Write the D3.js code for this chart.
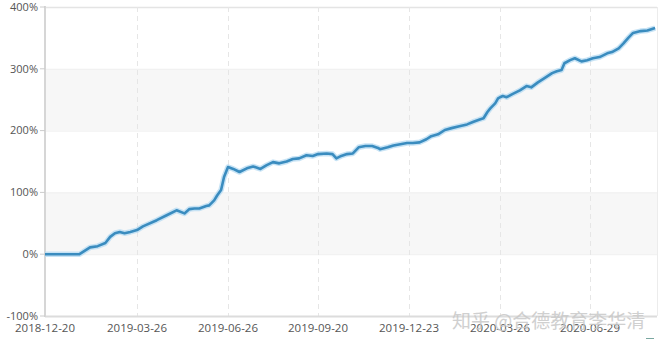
<!DOCTYPE html>
<html lang="en">
<head>
<script src="https://d3js.org/d3.v7.min.js"></script>
<style>
  body { margin: 0; background: #fff; }
  .tick-label { font-family: "Open Sans", "DejaVu Sans", sans-serif; font-size: 11px; fill: #555; }
</style>
</head>
<body>
<svg id="chart" width="665" height="348"></svg>
<script>
// x tick dates (also the dashed grid lines)
const tickDates = ["2018-12-20", "2019-03-26", "2019-06-26", "2019-09-20", "2019-12-23", "2020-03-26", "2020-06-29"];
const yTicks = [-100, 0, 100, 200, 300, 400];

// cumulative return, %
const dates = [
  "2018-12-20", "2019-01-25", "2019-02-05", "2019-02-13", "2019-02-21", "2019-02-26", "2019-03-03", "2019-03-08",
  "2019-03-13", "2019-03-19", "2019-03-26", "2019-04-01", "2019-04-15", "2019-04-25", "2019-05-05", "2019-05-13",
  "2019-05-18", "2019-05-23", "2019-05-28", "2019-06-04", "2019-06-07", "2019-06-12", "2019-06-15", "2019-06-19",
  "2019-06-22", "2019-06-26", "2019-07-01", "2019-07-07", "2019-07-14", "2019-07-20", "2019-07-27", "2019-08-02",
  "2019-08-08", "2019-08-14", "2019-08-21", "2019-08-27", "2019-09-02", "2019-09-09", "2019-09-15", "2019-09-20",
  "2019-09-29", "2019-10-05", "2019-10-09", "2019-10-14", "2019-10-20", "2019-10-26", "2019-11-01", "2019-11-08",
  "2019-11-15", "2019-11-21", "2019-11-23", "2019-12-01", "2019-12-07", "2019-12-14", "2019-12-21", "2019-12-27",
  "2020-01-03", "2020-01-10", "2020-01-15", "2020-01-22", "2020-01-29", "2020-02-05", "2020-02-13", "2020-02-21",
  "2020-02-27", "2020-03-05", "2020-03-09", "2020-03-13", "2020-03-16", "2020-03-21", "2020-03-24", "2020-03-26",
  "2020-03-29", "2020-04-02", "2020-04-08", "2020-04-16", "2020-04-23", "2020-04-28", "2020-05-05", "2020-05-12",
  "2020-05-20", "2020-05-25", "2020-05-30", "2020-06-02", "2020-06-08", "2020-06-13", "2020-06-20", "2020-06-26",
  "2020-07-02", "2020-07-09", "2020-07-17", "2020-07-22", "2020-07-29", "2020-08-03", "2020-08-08", "2020-08-13",
  "2020-08-21", "2020-08-28", "2020-09-05"
];
const returns = [
  0, 0, 11, 13, 18, 28, 34, 36,
  34, 36, 39, 45, 55, 63, 71, 66,
  73, 74, 74, 78, 79, 87, 95, 104,
  125, 141, 138, 133, 139, 142, 138, 144,
  149, 147, 150, 154, 155, 160, 159, 162,
  163, 162, 155, 159, 162, 163, 173, 175,
  175, 172, 170, 173, 176, 178, 180, 180,
  181, 186, 191, 194, 201, 204, 207, 210,
  214, 218, 220, 230, 236, 244, 252, 254,
  256, 254, 259, 265, 272, 270, 278, 285,
  293, 296, 298, 309, 314, 317, 312, 314,
  317, 319, 325, 327, 333, 341, 350, 358,
  361, 362, 366
];
const lastDate = "2020-09-07";

const parse = d3.timeParse("%Y-%m-%d");
const svg = d3.select("#chart");

const x = d3.scaleTime()
  .domain([...tickDates, lastDate].map(parse))
  .range([45, 137, 228, 318, 409, 500, 590, 657]);
const y = d3.scaleLinear().domain([-100, 400]).range([316, 7]);

// alternating bands
const bands = [[200, 300], [0, 100]];
svg.append("g").selectAll("rect").data(bands).join("rect")
  .attr("x", 45).attr("width", 612)
  .attr("y", d => y(d[1])).attr("height", d => y(d[0]) - y(d[1]))
  .attr("fill", "#f7f7f7");

// horizontal grid
svg.append("g").selectAll("line").data(yTicks.slice(1)).join("line")
  .attr("x1", 45).attr("x2", 657)
  .attr("y1", d => y(d) + 0.5).attr("y2", d => y(d) + 0.5)
  .attr("stroke", d => d === 400 ? "#e4e4e4" : "#efefef")
  .attr("stroke-width", d => d === 400 ? 1.5 : 1);

// vertical dashed grid
svg.append("g").selectAll("line").data(tickDates.slice(1)).join("line")
  .attr("x1", d => x(parse(d)) + 0.5).attr("x2", d => x(parse(d)) + 0.5)
  .attr("y1", y(400)).attr("y2", y(-100))
  .attr("stroke", "#e6e6e6").attr("stroke-dasharray", "5,4");

// right border
svg.append("line").attr("x1", 657.5).attr("x2", 657.5).attr("y1", y(400)).attr("y2", y(-100))
  .attr("stroke", "#ececec");

// axes lines
svg.append("line").attr("x1", 45).attr("x2", 657).attr("y1", y(-100) + 0.5).attr("y2", y(-100) + 0.5)
  .attr("stroke", "#dcdcdc").attr("stroke-width", 2);
svg.append("line").attr("x1", 45).attr("x2", 45).attr("y1", y(400) - 1).attr("y2", y(-100) + 1)
  .attr("stroke", "#d6d6d6").attr("stroke-width", 2);

// y ticks + labels
const yg = svg.append("g").selectAll("g").data(yTicks).join("g")
  .attr("transform", d => `translate(0,${y(d)})`);
yg.append("line").attr("x1", 40).attr("x2", 45).attr("stroke", "#ccc");
yg.append("text").attr("class", "tick-label")
  .attr("x", 38).attr("dy", "0.35em").attr("text-anchor", "end")
  .text(d => d + "%");

// x labels
svg.append("g").selectAll("text").data(tickDates).join("text")
  .attr("class", "tick-label")
  .attr("x", d => x(parse(d))).attr("y", 332)
  .attr("text-anchor", "middle").style("font-size", "11.5px")
  .text(d => d);

// line with soft halo
const series = dates.map((d, i) => ({ date: parse(d), v: returns[i] }));
const line = d3.line().x(d => x(d.date)).y(d => y(d.v)).curve(d3.curveLinear);
svg.append("path").datum(series)
  .attr("d", line).attr("fill", "none")
  .attr("stroke", "#b9dcf2").attr("stroke-width", 5.5).attr("stroke-linejoin", "round").attr("opacity", 0.8);
svg.append("path").datum(series)
  .attr("d", line).attr("fill", "none")
  .attr("stroke", "#3a8cbf").attr("stroke-width", 2.6).attr("stroke-linejoin", "round");

// watermark
svg.append("text")
  .attr("x", 452).attr("y", 328)
  .style("font-family", "'Noto Sans CJK SC', sans-serif").style("font-size", "19px")
  .attr("fill", "#c8c8c8").attr("opacity", 0.85)
  .text("知乎 @合德教育李华清");
svg.append("line").attr("x1", 646).attr("x2", 654).attr("y1", 338.5).attr("y2", 338.5)
  .attr("stroke", "#7aa7a0");
</script>
</body>
</html>
